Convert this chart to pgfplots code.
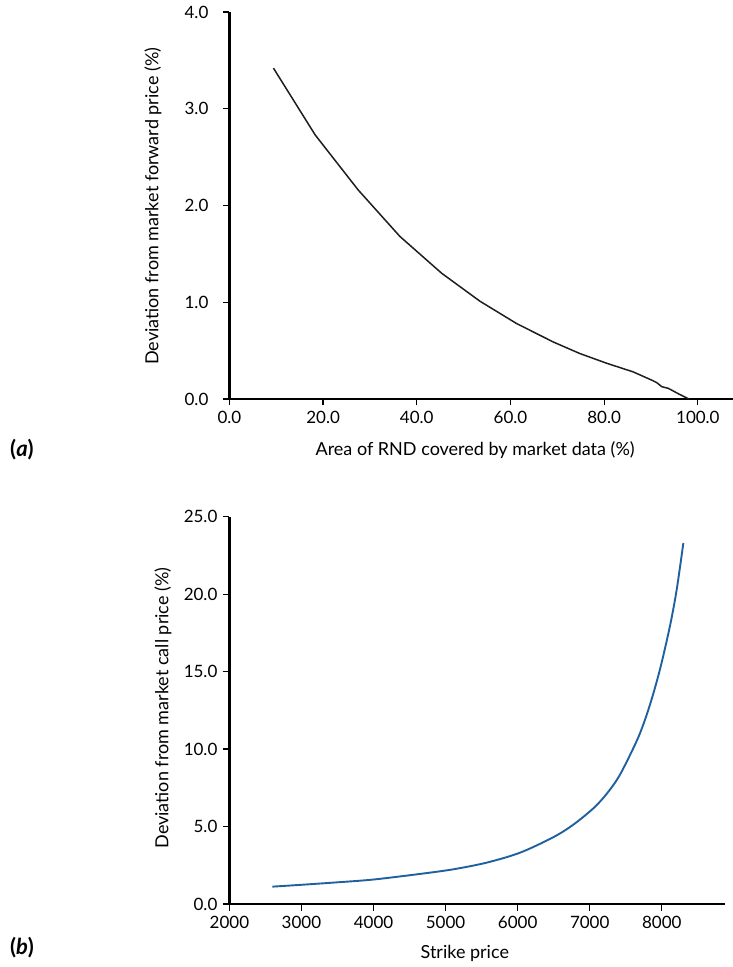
\documentclass[border=0pt]{standalone}
\usepackage{pgfplots}
\pgfplotsset{compat=1.18}
\usepackage{fontspec}
\setmainfont{Lato}
\definecolor{curveblue}{RGB}{31,96,158}
\definecolor{curvedark}{RGB}{30,30,30}
\begin{document}
\fontsize{16}{19}\selectfont
\begin{tikzpicture}
\useasboundingbox (0pt,0pt) rectangle (733pt,967pt);
\pgfplotsset{
  myaxis/.style={
    scale only axis,
    axis lines*=left,
    axis line style={-, line width=2.2pt, black},
    tick align=outside,
    major tick length=6.5pt,
    tick style={black, line width=1.2pt},
    /pgf/number format/assume math mode=true,
    tick label style={font=\fontsize{17}{20}\selectfont},
    label style={font=\fontsize{18}{21}\selectfont},
    clip=false,
  }
}
% Panel (a)
\begin{axis}[myaxis,
  at={(229.4pt,568pt)}, anchor=south west,
  width=503.6pt, height=387pt,
  xmin=0, xmax=107.5, ymin=0, ymax=4,
  xtick={0,20,40,60,80,100},
  ytick={0,1,2,3,4},
  xticklabel style={/pgf/number format/.cd, fixed, fixed zerofill, precision=1},
  yticklabel style={xshift=-9pt, /pgf/number format/.cd, fixed, fixed zerofill, precision=1},
  xlabel={Area of RND covered by market data (\%)},
  ylabel={Deviation from market forward price (\%)},
  x label style={at={(axis description cs:0.488,-0.132)}, anchor=center},
  y label style={at={(axis description cs:-0.152,0.498)}, anchor=center},
]
\addplot[curvedark, line width=1.5pt] coordinates {
(9.4,3.42) (18.3,2.73) (27.5,2.16) (36.4,1.68) (45.3,1.30) (53.5,1.01)
(61.3,0.78) (69.1,0.59) (74.8,0.47) (80.5,0.37) (86.2,0.28) (90.1,0.196)
(91.2,0.17) (92.3,0.127) (93.7,0.11) (96.0,0.05) (98.1,0.0)
};
\end{axis}
% Panel (b)
\begin{axis}[myaxis,
  at={(229.4pt,63pt)}, anchor=south west,
  width=495.6pt, height=387.3pt,
  xmin=2000, xmax=8877, ymin=0, ymax=25,
  xtick={2000,3000,4000,5000,6000,7000,8000},
  ytick={0,5,10,15,20,25},
  xticklabel style={/pgf/number format/.cd, fixed, set thousands separator={}},
  yticklabel style={/pgf/number format/.cd, fixed, fixed zerofill, precision=1},
  xlabel={Strike price},
  ylabel={Deviation from market call price (\%)},
  x label style={at={(axis description cs:0.475,-0.1265)}, anchor=center},
  y label style={at={(axis description cs:-0.134,0.506)}, anchor=center},
]
\addplot[curveblue, line width=1.9pt, smooth] coordinates {
(2597,1.12) (3000,1.24) (3500,1.40) (4000,1.58) (4643,1.94) (5107,2.24)
(5570,2.67) (6032,3.31) (6494,4.31) (6772,5.12) (7049,6.17) (7235,7.11)
(7420,8.35) (7674,10.76) (7830,12.78) (7975,15.15) (8114,17.96) (8207,20.3)
(8299,23.3)
};
\end{axis}
\node[font=\fontsize{22}{26}\selectfont\bfseries] at (22pt,517pt) {(\textit{a})};
\node[font=\fontsize{22}{26}\selectfont\bfseries] at (22pt,19pt) {(\textit{b})};
\end{tikzpicture}
\end{document}
